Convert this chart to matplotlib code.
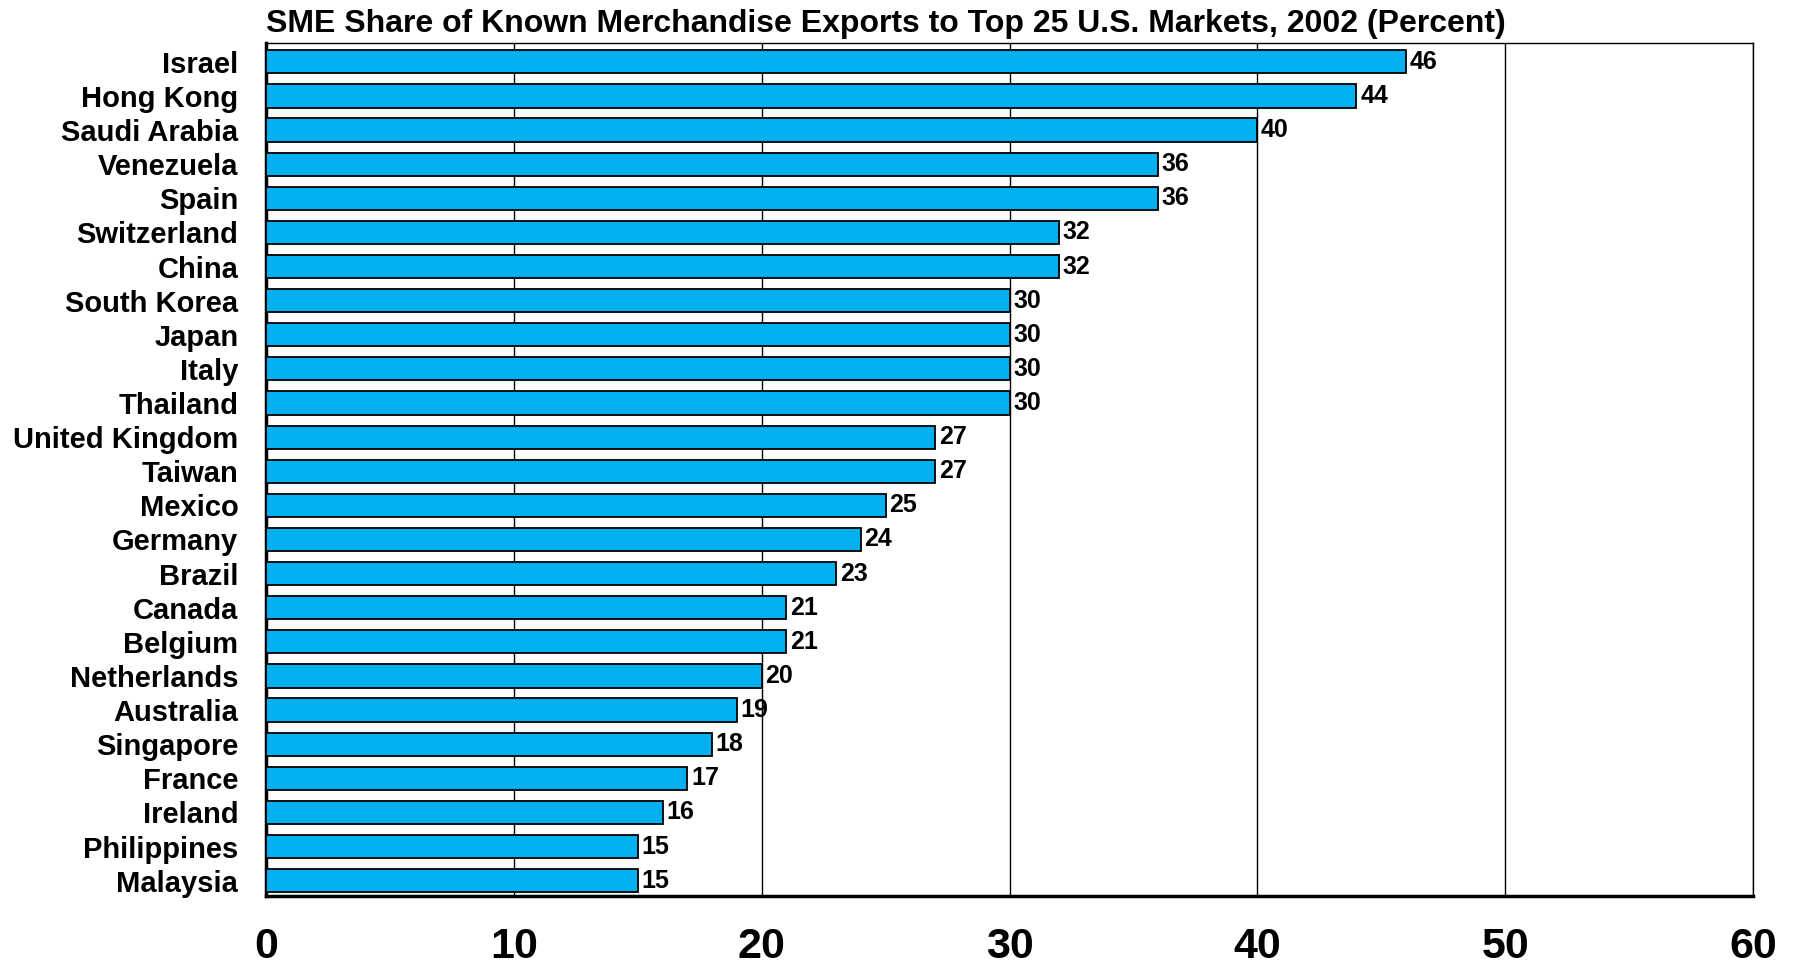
import matplotlib
matplotlib.use("Agg")
import matplotlib.pyplot as plt

plt.rcParams['font.family'] = ['Liberation Sans', 'DejaVu Sans']
plt.rcParams['font.weight'] = 'bold'

# data, top to bottom as in the chart
countries = ['Israel', 'Hong Kong', 'Saudi Arabia', 'Venezuela', 'Spain', 'Switzerland',
             'China', 'South Korea', 'Japan', 'Italy', 'Thailand', 'United Kingdom',
             'Taiwan', 'Mexico', 'Germany', 'Brazil', 'Canada', 'Belgium', 'Netherlands',
             'Australia', 'Singapore', 'France', 'Ireland', 'Philippines', 'Malaysia']
shares = [46, 44, 40, 36, 36, 32, 32, 30, 30, 30, 30, 27, 27, 25, 24, 23, 21, 21, 20,
          19, 18, 17, 16, 15, 15]
x_ticks = [0, 10, 20, 30, 40, 50, 60]

fig = plt.figure(figsize=(17.99, 9.71), dpi=100)
ax = fig.add_axes([0.1479, 0.0772, 0.8265, 0.8785])

n = len(countries)
ypos = [n - 1 - i for i in range(n)]
ax.barh(ypos, shares, height=0.68, color='#00B0F0', edgecolor='black', linewidth=1.3, zorder=3)

for y, v in zip(ypos, shares):
    ax.text(v + 0.15, y, str(v), va='center', ha='left', fontsize=18, fontweight='bold', zorder=4)

ax.set_xlim(0, 60)
ax.set_ylim(-0.45, n - 0.45)
ax.set_xticks(x_ticks)
ax.set_xticklabels([str(t) for t in x_ticks], fontsize=31, fontweight='bold')
ax.set_yticks(ypos)
ax.set_yticklabels(countries, fontsize=21, fontweight='bold')
ax.tick_params(axis='x', length=0, pad=22)
ax.tick_params(axis='y', length=0, pad=20)

ax.grid(axis='x', color='black', linewidth=1.0, zorder=0)
ax.set_axisbelow(True)
for side in ['top', 'right']:
    ax.spines[side].set_linewidth(1.0)
for side in ['left', 'bottom']:
    ax.spines[side].set_linewidth(2.5)

fig.text(0.148, 0.975, 'SME Share of Known Merchandise Exports to Top 25 U.S. Markets, 2002 (Percent)',
         ha='left', va='center', fontsize=23, fontweight='bold')

fig.savefig('out.png', dpi=100)
